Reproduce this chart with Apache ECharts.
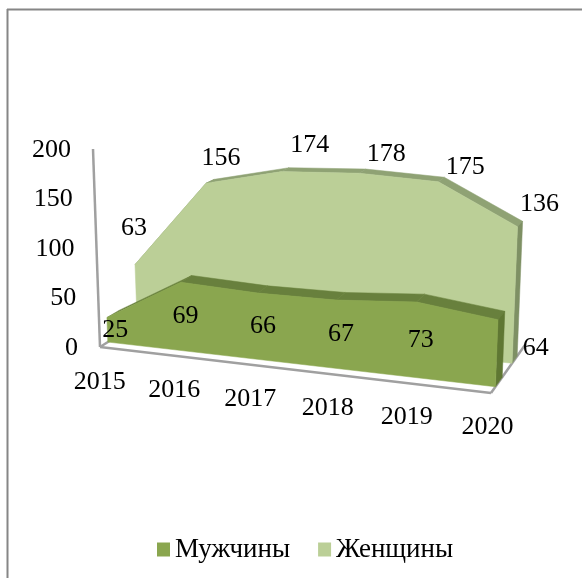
<!DOCTYPE html>
<html>
<head>
<meta charset="utf-8">
<script src="https://cdn.jsdelivr.net/npm/echarts@6/dist/echarts.min.js"></script>
<style>
  html, body { margin: 0; padding: 0; background: #fff; }
  #chart { width: 582px; height: 578px; }
</style>
</head>
<body>
<div id="chart"></div>
<script>
// данные
const years = ['2015', '2016', '2017', '2018', '2019', '2020'];
const men = [25, 69, 66, 67, 73, 64];
const women = [63, 156, 174, 178, 175, 136];
const yTicks = [0, 50, 100, 150, 200];

// depth of each layer on the floor, 0 = front edge, 1 = back edge
const MEN_FRONT = 0.13, MEN_BACK = 0.33;
const WOMEN_FRONT = 0.62, WOMEN_BACK = 0.77;

// nudges of the value labels, same order as the years
const menNudge = [[8, 0], [4, 0], [5, 0], [5, 0], [5, 0], [39, -5]];
const womenNudge = [[-1, -36], [15, -25], [28, -26], [27, -19], [27, -15], [22, -22]];

const FONT = '26px "Liberation Serif", "Times New Roman", serif';
const AXIS_GREY = '#a0a0a0';

var chart = echarts.init(document.getElementById('chart'));

function lerp(a, b, k) { return a + (b - a) * k; }

// takes a point from the flat hidden grid and tilts it into the 3D look
function project(api, i, value, depth) {
  var p = api.coord([i, value]);
  var start = api.coord([0, 0]);
  var end = api.coord([years.length - 1, 0]);
  var t = (p[0] - start[0]) / (end[0] - start[0]);
  var h = start[1] - p[1];
  t = t * (0.95 + 0.05 * t); // perspective, far years are closer together
  var baseX = lerp(lerp(100, 160, depth), lerp(491, 525, depth), t);
  var baseY = lerp(lerp(347, 309, depth), lerp(393, 345, depth), t);
  var scale = 0.99 + 0.07 * t - 0.09 * depth;
  var tilt = -0.035 + 0.075 * t;
  return [baseX + h * tilt, baseY - h * scale];
}

function poly(points, fill) {
  return { type: 'polygon', shape: { points: points }, style: { fill: fill, stroke: fill, lineWidth: 0.5 } };
}

function label(text, x, y, align) {
  return {
    type: 'text', x: x, y: y,
    style: { text: String(text), fill: '#000', font: FONT, align: align || 'center', verticalAlign: 'middle' }
  };
}

// one band of the area: top faces first, then the side, then the front
function renderBand(values, front, back, colors) {
  return function (params, api) {
    if (params.dataIndex !== 0) return null;
    var kids = [];
    var last = values.length - 1;
    for (var i = 0; i < last; i++) {
      kids.push(poly([
        project(api, i, values[i], front),
        project(api, i + 1, values[i + 1], front),
        project(api, i + 1, values[i + 1], back),
        project(api, i, values[i], back)
      ], colors.top));
    }
    kids.push(poly([
      project(api, last, 0, front),
      project(api, last, values[last], front),
      project(api, last, values[last], back),
      project(api, last, 0, back)
    ], colors.side));
    var face = [project(api, 0, 0, front)];
    for (var j = 0; j <= last; j++) face.push(project(api, j, values[j], front));
    face.push(project(api, last, 0, front));
    kids.push(poly(face, colors.front));
    return { type: 'group', children: kids };
  };
}

function axisLine(a, b) {
  return {
    type: 'line',
    shape: { x1: a[0], y1: a[1], x2: b[0], y2: b[1] },
    style: { stroke: AXIS_GREY, lineWidth: 2.5 }
  };
}

function renderAxes(params, api) {
  if (params.dataIndex !== 0) return null;
  var last = years.length - 1;
  return {
    type: 'group',
    children: [
      axisLine(project(api, 0, 0, 0), project(api, 0, 200, 0)),
      axisLine(project(api, 0, 0, 0), project(api, last, 0, 0)),
      axisLine(project(api, 0, 0, 0), project(api, 0, 0, 1)),
      axisLine(project(api, last, 0, 0), project(api, last, 0, 1))
    ]
  };
}

function renderLabels(params, api) {
  var i = params.dataIndex;
  var kids = [];
  var foot = project(api, i, 0, MEN_FRONT);
  kids.push(label(years[i], foot[0] - 8, foot[1] + 40));

  var m = project(api, i, men[i] / 2, MEN_FRONT);
  kids.push(label(men[i], m[0] + menNudge[i][0], m[1] + menNudge[i][1]));

  var w = project(api, i, women[i], WOMEN_FRONT);
  kids.push(label(women[i], w[0] + womenNudge[i][0], w[1] + womenNudge[i][1]));

  yTicks.forEach(function (tick) {
    if (i !== 0) return;
    var p = project(api, 0, tick, 0);
    kids.push(label(tick, p[0] - 22, p[1] + 1, 'right'));
  });
  return { type: 'group', children: kids };
}

function pairs(values) {
  return values.map(function (v, i) { return [i, v]; });
}

var option = {
  animation: false,
  backgroundColor: '#fff',
  grid: { left: 100, top: 147, width: 391, height: 200 },
  xAxis: { type: 'category', data: years, boundaryGap: false, show: false },
  yAxis: { type: 'value', min: 0, max: 200, show: false },
  legend: {
    data: ['Мужчины', 'Женщины'],
    left: 152, top: 531,
    icon: 'rect',
    itemWidth: 13, itemHeight: 14, itemGap: 28,
    textStyle: { fontFamily: '"Liberation Serif"', fontSize: 27, color: '#000' }
  },
  graphic: [
    { type: 'line', shape: { x1: 7.5, y1: 9, x2: 7.5, y2: 578 }, style: { stroke: '#868686', lineWidth: 2 } },
    { type: 'line', shape: { x1: 7, y1: 9.5, x2: 582, y2: 9.5 }, style: { stroke: '#868686', lineWidth: 2 } }
  ],
  series: [
    {
      name: 'оси', type: 'custom', silent: true, clip: false,
      data: pairs(men), encode: { x: 0, y: 1 }, renderItem: renderAxes
    },
    {
      name: 'Женщины', type: 'custom', clip: false, silent: true,
      itemStyle: { color: '#bbcf97' },
      data: pairs(women), encode: { x: 0, y: 1 },
      renderItem: renderBand(women, WOMEN_FRONT, WOMEN_BACK, { top: '#8fa274', side: '#7e9064', front: '#bbcf97' })
    },
    {
      name: 'Мужчины', type: 'custom', clip: false, silent: true,
      itemStyle: { color: '#8aa64f' },
      data: pairs(men), encode: { x: 0, y: 1 },
      renderItem: renderBand(men, MEN_FRONT, MEN_BACK, { top: '#68803d', side: '#5f7733', front: '#8aa64f' })
    },
    {
      name: 'подписи', type: 'custom', silent: true, clip: false,
      data: pairs(men), encode: { x: 0, y: 1 }, renderItem: renderLabels
    }
  ]
};
chart.setOption(option);
</script>
</body>
</html>
